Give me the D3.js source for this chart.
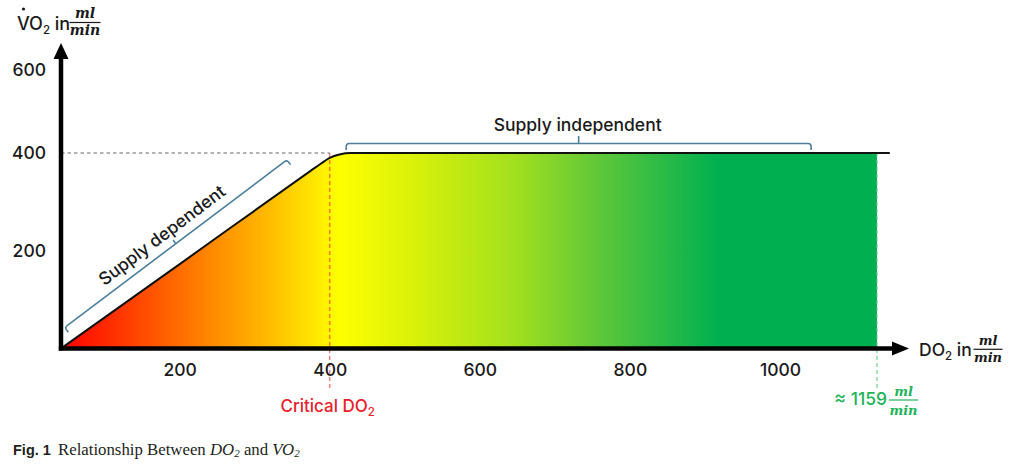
<!DOCTYPE html>
<html>
<head>
<meta charset="utf-8">
<script src="https://cdn.jsdelivr.net/npm/d3@7"></script>
<style>
  html, body { margin: 0; padding: 0; background: #fff; }
  svg { display: block; }
</style>
</head>
<body>
<svg id="chart" width="1024" height="466"></svg>
<script>
// ---------------- data ----------------
const xTicks = [200, 400, 600, 800, 1000];
const yTicks = [200, 400, 600];
const xOrigin = 42;             // DO2 value at the axes' corner
const curveDO2 = [42, 210, 375, 388, 400, 413, 428, 1180];
const curveVO2 = [0, 183.5, 364, 378, 390, 397, 400, 400];
const criticalDO2 = 400;
const maxDO2 = 1159;
const plateauVO2 = 400;
const dependentSpan = { from: [47, 43], to: [343, 386] };   // [DO2, VO2]
const independentSpan = { from: 422, to: 1051 };            // DO2 range

// ---------------- scales ----------------
const x = d3.scaleLinear().domain([xOrigin, 1000, maxDO2]).range([61, 780, 877]);
const y = d3.scaleLinear().domain([0, 400, 600]).range([348.5, 153, 70]);

const svg = d3.select("#chart");
const SANS = "Inter, 'Liberation Sans', Arial, sans-serif";
const SERIF = "'Liberation Serif', 'Times New Roman', serif";
const MATH = "'DejaVu Serif', serif";
const W = 500;

const points = curveDO2.map((d, i) => [d, curveVO2[i]]);

// gradient
const defs = svg.append("defs");
const grad = defs.append("linearGradient").attr("id", "fillGrad")
  .attr("gradientUnits", "userSpaceOnUse")
  .attr("x1", x(xOrigin)).attr("x2", x(maxDO2)).attr("y1", 0).attr("y2", 0);
const stops = [
  [0, "#ff0000"], [0.15, "#ff7000"], [0.26, "#ffbf00"], [0.34, "#ffff00"],
  [0.425, "#dcf208"], [0.556, "#a2e01e"], [0.655, "#62c838"], [0.72, "#36bd44"],
  [0.806, "#00b050"], [1, "#00b050"]
];
stops.forEach(s => grad.append("stop").attr("offset", s[0]).attr("stop-color", s[1]));

defs.append("clipPath").attr("id", "fillClip").append("rect")
  .attr("x", x(xOrigin)).attr("y", 0)
  .attr("width", x(maxDO2) - x(xOrigin)).attr("height", y(0));

// area fill
const area = d3.area().x(d => x(d[0])).y0(y(0)).y1(d => y(d[1])).curve(d3.curveMonotoneX);
svg.append("path").datum(points).attr("d", area)
  .attr("fill", "url(#fillGrad)").attr("clip-path", "url(#fillClip)");

// dashed reference at plateau
svg.append("line")
  .attr("x1", x(xOrigin)).attr("x2", x(criticalDO2))
  .attr("y1", y(plateauVO2)).attr("y2", y(plateauVO2))
  .attr("stroke", "#666").attr("stroke-width", 1).attr("stroke-dasharray", "3.5,3");

// critical line
svg.append("line")
  .attr("x1", x(criticalDO2)).attr("x2", x(criticalDO2))
  .attr("y1", y(plateauVO2)).attr("y2", y(0) + 40)
  .attr("stroke", "#f03a3a").attr("stroke-opacity", 0.65)
  .attr("stroke-width", 1.5).attr("stroke-dasharray", "4,3");

// max line
svg.append("line")
  .attr("x1", x(maxDO2)).attr("x2", x(maxDO2))
  .attr("y1", y(plateauVO2)).attr("y2", y(0) + 40)
  .attr("stroke", "#5fd08a").attr("stroke-opacity", 0.9)
  .attr("stroke-width", 1.2).attr("stroke-dasharray", "4,3");

// curve line
const line = d3.line().x(d => x(d[0])).y(d => y(d[1])).curve(d3.curveMonotoneX);
svg.append("path").datum(points).attr("d", line)
  .attr("fill", "none").attr("stroke", "#111").attr("stroke-width", 2);

// ---------------- axes ----------------
const ax = svg.append("g");
ax.append("line").attr("x1", x(xOrigin)).attr("x2", x(xOrigin))
  .attr("y1", y(0) + 2).attr("y2", y(600) - 12)
  .attr("stroke", "#000").attr("stroke-width", 4.5);
ax.append("path")
  .attr("d", `M${x(xOrigin)},${y(600) - 27} L${x(xOrigin) - 7.5},${y(600) - 11} L${x(xOrigin) + 7.5},${y(600) - 11} Z`)
  .attr("fill", "#000");
ax.append("line").attr("x1", x(xOrigin) - 2.2).attr("x2", x(maxDO2) + 17)
  .attr("y1", y(0)).attr("y2", y(0))
  .attr("stroke", "#000").attr("stroke-width", 4.5);
ax.append("path")
  .attr("d", `M${x(maxDO2) + 32},${y(0)} L${x(maxDO2) + 15},${y(0) - 7} L${x(maxDO2) + 15},${y(0) + 7} Z`)
  .attr("fill", "#000");

const xAxis = svg.append("g").attr("transform", `translate(0,${y(0)})`)
  .call(d3.axisBottom(x).tickValues(xTicks).tickSize(0).tickPadding(15.5).tickFormat(d3.format("d")));
const yAxis = svg.append("g").attr("transform", `translate(${x(xOrigin)},0)`)
  .call(d3.axisLeft(y).tickValues(yTicks).tickSize(0).tickPadding(15).tickFormat(d3.format("d")));
[xAxis, yAxis].forEach(g => {
  g.select(".domain").remove();
  g.selectAll("text").attr("font-family", SANS).attr("font-size", 17.5)
    .attr("font-weight", W).attr("fill", "#1a1a1a");
});

// ---------------- fraction helper ----------------
function fraction(cx, lineY, w, size, color, topY, botY) {
  svg.append("text").attr("x", cx).attr("y", topY).attr("text-anchor", "middle")
    .attr("font-family", MATH).attr("font-style", "italic").attr("font-weight", "bold")
    .attr("font-size", size).attr("fill", color).text("ml");
  svg.append("line").attr("x1", cx - w / 2).attr("x2", cx + w / 2)
    .attr("y1", lineY).attr("y2", lineY).attr("stroke", color).attr("stroke-width", 1.2);
  svg.append("text").attr("x", cx).attr("y", botY).attr("text-anchor", "middle")
    .attr("font-family", MATH).attr("font-style", "italic").attr("font-weight", "bold")
    .attr("font-size", size).attr("fill", color).text("min");
}

// y title
const yt = svg.append("text").attr("x", 17).attr("y", 30)
  .attr("font-family", SANS).attr("font-size", 18).attr("font-weight", W).attr("fill", "#1a1a1a");
yt.append("tspan").text("VO");
yt.append("tspan").attr("font-size", 11.5).attr("dy", 4).text("2");
yt.append("tspan").attr("dy", -4).text(" in");
svg.append("circle").attr("cx", 23.5).attr("cy", 9).attr("r", 1.6).attr("fill", "#1a1a1a");
fraction(85, 22.5, 31, 14, "#1a1a1a", 17.5, 35);

// x title
const xt = svg.append("text").attr("x", 919).attr("y", 355.5)
  .attr("font-family", SANS).attr("font-size", 17.5).attr("font-weight", W).attr("fill", "#1a1a1a");
xt.append("tspan").text("DO");
xt.append("tspan").attr("font-size", 11.5).attr("dy", 4).text("2");
xt.append("tspan").attr("dy", -4).text(" in");
fraction(988, 349.3, 29, 13, "#1a1a1a", 344.5, 362);

// critical label
const ct = svg.append("text").attr("x", x(criticalDO2) - 2).attr("y", 411.5)
  .attr("text-anchor", "middle").attr("font-family", SANS).attr("font-size", 17)
  .attr("font-weight", W).attr("fill", "#e8202a");
ct.append("tspan").text("Critical DO");
ct.append("tspan").attr("font-size", 11.5).attr("dy", 4).text("2");

// max label
svg.append("text").attr("x", x(maxDO2) + 10).attr("y", 405)
  .attr("text-anchor", "end").attr("font-family", SANS).attr("font-size", 17.5)
  .attr("font-weight", W).attr("fill", "#22b35a").text("\u2248 1159");
fraction(x(maxDO2) + 26.5, 400, 29, 13, "#22b35a", 396, 414.5);

// ---------------- brackets ----------------
function bracket(p1, p2, n, depth, notch, r) {
  const len = Math.hypot(p2[0] - p1[0], p2[1] - p1[1]);
  const d = [(p2[0] - p1[0]) / len, (p2[1] - p1[1]) / len];
  const mid = [(p1[0] + p2[0]) / 2, (p1[1] + p2[1]) / 2];
  const P = (b, a, s) => [b[0] + a[0] * s, b[1] + a[1] * s];
  const path = d3.path();
  let q = P(p1, n, depth); path.moveTo(q[0], q[1]);
  q = P(p1, n, r); path.lineTo(q[0], q[1]);
  q = P(p1, d, r); path.quadraticCurveTo(p1[0], p1[1], q[0], q[1]);
  q = P(p2, d, -r); path.lineTo(q[0], q[1]);
  q = P(p2, n, r); path.quadraticCurveTo(p2[0], p2[1], q[0], q[1]);
  q = P(p2, n, depth); path.lineTo(q[0], q[1]);
  path.moveTo(mid[0], mid[1]);
  q = P(mid, n, -notch); path.lineTo(q[0], q[1]);
  svg.append("path").attr("d", path.toString()).attr("fill", "none")
    .attr("stroke", "#4b7f9b").attr("stroke-width", 1.6).attr("stroke-linejoin", "round");
  return { mid, d, n };
}

// supply independent
const bi = bracket([x(independentSpan.from), y(plateauVO2) - 9.5],
                   [x(independentSpan.to), y(plateauVO2) - 9.5], [0, 1], 6.5, 7.5, 3);
svg.append("text").attr("x", bi.mid[0] - 1).attr("y", bi.mid[1] - 13)
  .attr("text-anchor", "middle").attr("font-family", SANS).attr("font-size", 17.5)
  .attr("font-weight", W).attr("fill", "#1a1a1a").text("Supply independent");

// supply dependent
const q1 = [x(dependentSpan.from[0]), y(dependentSpan.from[1])];
const q2 = [x(dependentSpan.to[0]), y(dependentSpan.to[1])];
const L = Math.hypot(q2[0] - q1[0], q2[1] - q1[1]);
const dd = [(q2[0] - q1[0]) / L, (q2[1] - q1[1]) / L];
const nn = [-dd[1], dd[0]];
const bd = bracket(q1, q2, nn, 6, 4.5, 3);
const ang = Math.atan2(dd[1], dd[0]) * 180 / Math.PI;
const tp = [bd.mid[0] - nn[0] * 9 - dd[0] * 6, bd.mid[1] - nn[1] * 9 - dd[1] * 6];
svg.append("text").attr("transform", `translate(${tp[0]},${tp[1]}) rotate(${ang})`)
  .attr("text-anchor", "middle").attr("font-family", SANS).attr("font-size", 17.5)
  .attr("font-weight", W).attr("fill", "#1a1a1a").text("Supply dependent");

// ---------------- caption ----------------
svg.append("text").attr("x", 13).attr("y", 455)
  .attr("font-family", "'Liberation Sans', Arial, sans-serif").attr("font-weight", "bold")
  .attr("font-size", 14.5).attr("fill", "#231f20").text("Fig. 1");
const cap = svg.append("text").attr("x", 58).attr("y", 455)
  .attr("font-family", SERIF).attr("font-size", 16.8).attr("fill", "#231f20");
cap.append("tspan").text("Relationship Between ");
cap.append("tspan").attr("font-style", "italic").text("DO");
cap.append("tspan").attr("font-style", "italic").attr("font-size", 11).attr("dy", 2).text("2");
cap.append("tspan").attr("dy", -2).text(" and ");
cap.append("tspan").attr("font-style", "italic").text("VO");
cap.append("tspan").attr("font-style", "italic").attr("font-size", 11).attr("dy", 2).text("2");
</script>
</body>
</html>
